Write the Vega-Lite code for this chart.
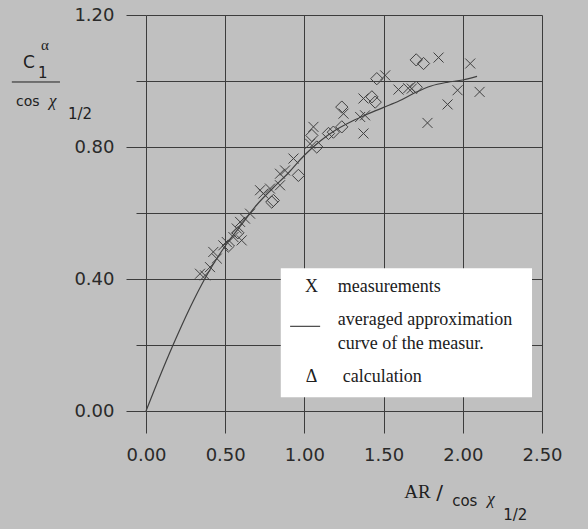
{
  "$schema": "https://vega.github.io/schema/vega-lite/v6.json",
  "autosize": "none",
  "width": 396,
  "height": 396,
  "padding": {"left": 146, "top": 15, "right": 46, "bottom": 118},
  "background": "#c0c0c0",
  "config": {"view": {"stroke": null}},
  "datasets": {
    "measurements": [
      {"x": 0.341, "y": 0.416}, {"x": 0.373, "y": 0.411}, {"x": 0.404, "y": 0.436}, {"x": 0.447, "y": 0.462},
      {"x": 0.425, "y": 0.482}, {"x": 0.488, "y": 0.502}, {"x": 0.51, "y": 0.512}, {"x": 0.552, "y": 0.527},
      {"x": 0.604, "y": 0.517}, {"x": 0.573, "y": 0.553}, {"x": 0.594, "y": 0.573}, {"x": 0.625, "y": 0.583},
      {"x": 0.657, "y": 0.598}, {"x": 0.72, "y": 0.669}, {"x": 0.741, "y": 0.659}, {"x": 0.783, "y": 0.674},
      {"x": 0.846, "y": 0.684}, {"x": 0.846, "y": 0.719}, {"x": 0.878, "y": 0.729}, {"x": 0.931, "y": 0.765},
      {"x": 1.036, "y": 0.81}, {"x": 1.057, "y": 0.861}, {"x": 1.247, "y": 0.901}, {"x": 1.352, "y": 0.891},
      {"x": 1.383, "y": 0.896}, {"x": 1.373, "y": 0.841}, {"x": 1.373, "y": 0.947}, {"x": 1.51, "y": 1.017},
      {"x": 1.594, "y": 0.974}, {"x": 1.655, "y": 0.978}, {"x": 1.678, "y": 0.977}, {"x": 1.777, "y": 0.873},
      {"x": 1.847, "y": 1.071}, {"x": 1.904, "y": 0.929}, {"x": 1.967, "y": 0.972}, {"x": 2.047, "y": 1.053},
      {"x": 2.106, "y": 0.967}
    ],
    "calculation": [
      {"x": 0.52, "y": 0.5}, {"x": 0.58, "y": 0.54}, {"x": 0.794, "y": 0.633}, {"x": 0.804, "y": 0.638},
      {"x": 0.962, "y": 0.714}, {"x": 1.047, "y": 0.835}, {"x": 1.078, "y": 0.8}, {"x": 1.152, "y": 0.841},
      {"x": 1.183, "y": 0.845}, {"x": 1.236, "y": 0.921}, {"x": 1.236, "y": 0.861}, {"x": 1.426, "y": 0.952},
      {"x": 1.447, "y": 0.936}, {"x": 1.457, "y": 1.007}, {"x": 1.706, "y": 0.981}, {"x": 1.706, "y": 1.064},
      {"x": 1.752, "y": 1.053}
    ],
    "curve": [
      {"x": 0, "y": 0}, {"x": 0.1, "y": 0.12}, {"x": 0.2, "y": 0.232}, {"x": 0.3, "y": 0.335},
      {"x": 0.4, "y": 0.425}, {"x": 0.5, "y": 0.5}, {"x": 0.6, "y": 0.563}, {"x": 0.7, "y": 0.625},
      {"x": 0.8, "y": 0.675}, {"x": 0.9, "y": 0.722}, {"x": 1.0, "y": 0.775}, {"x": 1.1, "y": 0.818},
      {"x": 1.2, "y": 0.852}, {"x": 1.3, "y": 0.878}, {"x": 1.4, "y": 0.9}, {"x": 1.5, "y": 0.92},
      {"x": 1.6, "y": 0.94}, {"x": 1.7, "y": 0.965}, {"x": 1.8, "y": 0.985}, {"x": 1.9, "y": 0.996},
      {"x": 2.0, "y": 1.003}, {"x": 2.09, "y": 1.014}
    ],
    "one": [{}]
  },
  "layer": [
    {
      "data": {"name": "measurements"},
      "mark": {"type": "point", "shape": "M-1,-1L1,1M1,-1L-1,1", "size": 100, "filled": false, "stroke": "#404040", "strokeWidth": 1, "opacity": 1},
      "encoding": {
        "x": {"field": "x", "type": "quantitative", "title": null,
          "scale": {"domain": [0, 2.5], "nice": false, "zero": false},
          "axis": {"values": [0, 0.25, 0.5, 0.75, 1, 1.25, 1.5, 1.75, 2, 2.25, 2.5], "format": ".2f",
            "labelExpr": "round(datum.value*100) % 50 === 0 ? datum.label : ''",
            "grid": true, "gridColor": "#3c3c3c", "gridWidth": 1, "gridOpacity": 1, "domain": false,
            "tickColor": "#3c3c3c", "tickWidth": 1,
            "tickSize": {"condition": {"test": "round(datum.value*100) % 50 === 0", "value": 22}, "value": 12},
            "labelFont": "DejaVu Sans", "labelFontSize": 18, "labelColor": "#2a2a2a", "labelPadding": 13,
            "labelOverlap": false, "labelFlush": false}},
        "y": {"field": "y", "type": "quantitative", "title": null,
          "scale": {"domain": [0, 1.2], "nice": false, "zero": false},
          "axis": {"values": [0, 0.2, 0.4, 0.6, 0.8, 1.0, 1.2], "format": ".2f",
            "labelExpr": "round(datum.value*10) % 4 === 0 ? datum.label : ''",
            "grid": true, "gridColor": "#3c3c3c", "gridWidth": 1, "gridOpacity": 1, "domain": false,
            "tickColor": "#3c3c3c", "tickWidth": 1,
            "tickSize": {"condition": {"test": "round(datum.value*10) % 4 === 0", "value": 20}, "value": 10},
            "labelFont": "DejaVu Sans", "labelFontSize": 18, "labelColor": "#2a2a2a", "labelPadding": 12,
            "labelOverlap": false, "labelFlush": false}}
      }
    },
    {
      "data": {"name": "calculation"},
      "mark": {"type": "point", "shape": "diamond", "size": 150, "filled": false, "stroke": "#404040", "strokeWidth": 1, "opacity": 1},
      "encoding": {
        "x": {"field": "x", "type": "quantitative"},
        "y": {"field": "y", "type": "quantitative"}
      }
    },
    {
      "data": {"name": "curve"},
      "mark": {"type": "line", "interpolate": "monotone", "stroke": "#404040", "strokeWidth": 1.2},
      "encoding": {
        "x": {"field": "x", "type": "quantitative"},
        "y": {"field": "y", "type": "quantitative"}
      }
    },
    {
      "data": {"name": "one"},
      "mark": {"type": "rect", "fill": "#ffffff", "stroke": null},
      "encoding": {
        "x": {"datum": 0.851, "type": "quantitative"}, "x2": {"datum": 2.437},
        "y": {"datum": 0.4324, "type": "quantitative"}, "y2": {"datum": 0.0415}
      }
    },
    {
      "data": {"name": "one"},
      "mark": {"type": "rule", "stroke": "#202020", "strokeWidth": 1},
      "encoding": {
        "x": {"datum": 0.9098, "type": "quantitative"}, "x2": {"datum": 1.0993},
        "y": {"datum": 0.2567, "type": "quantitative"}
      }
    },
    {
      "data": {"name": "one"},
      "mark": {"type": "text", "text": "X", "font": "Liberation Serif", "fontSize": 18, "align": "center", "baseline": "alphabetic", "color": "#202020"},
      "encoding": {"x": {"datum": 1.0456, "type": "quantitative"}, "y": {"datum": 0.3606, "type": "quantitative"}}
    },
    {
      "data": {"name": "one"},
      "mark": {"type": "text", "text": "measurements", "font": "Liberation Serif", "fontSize": 18, "align": "left", "baseline": "alphabetic", "color": "#202020"},
      "encoding": {"x": {"datum": 1.211, "type": "quantitative"}, "y": {"datum": 0.3606, "type": "quantitative"}}
    },
    {
      "data": {"name": "one"},
      "mark": {"type": "text", "text": "averaged approximation", "font": "Liberation Serif", "fontSize": 18, "align": "left", "baseline": "alphabetic", "color": "#202020"},
      "encoding": {"x": {"datum": 1.211, "type": "quantitative"}, "y": {"datum": 0.2597, "type": "quantitative"}}
    },
    {
      "data": {"name": "one"},
      "mark": {"type": "text", "text": "curve of the measur.", "font": "Liberation Serif", "fontSize": 18, "align": "left", "baseline": "alphabetic", "color": "#202020"},
      "encoding": {"x": {"datum": 1.211, "type": "quantitative"}, "y": {"datum": 0.187, "type": "quantitative"}}
    },
    {
      "data": {"name": "one"},
      "mark": {"type": "text", "text": "Δ", "font": "Liberation Serif", "fontSize": 18, "align": "center", "baseline": "alphabetic", "color": "#202020"},
      "encoding": {"x": {"datum": 1.0456, "type": "quantitative"}, "y": {"datum": 0.0879, "type": "quantitative"}}
    },
    {
      "data": {"name": "one"},
      "mark": {"type": "text", "text": "calculation", "font": "Liberation Serif", "fontSize": 18, "align": "left", "baseline": "alphabetic", "color": "#202020"},
      "encoding": {"x": {"datum": 1.2427, "type": "quantitative"}, "y": {"datum": 0.0879, "type": "quantitative"}}
    },
    {
      "data": {"name": "one"},
      "mark": {"type": "text", "text": "C", "font": "DejaVu Sans", "fontSize": 17, "align": "left", "baseline": "alphabetic", "color": "#202020"},
      "encoding": {"x": {"datum": -0.777, "type": "quantitative"}, "y": {"datum": 1.04, "type": "quantitative"}}
    },
    {
      "data": {"name": "one"},
      "mark": {"type": "text", "text": "α", "font": "Liberation Serif", "fontSize": 15, "align": "left", "baseline": "alphabetic", "color": "#202020"},
      "encoding": {"x": {"datum": -0.663, "type": "quantitative"}, "y": {"datum": 1.093, "type": "quantitative"}}
    },
    {
      "data": {"name": "one"},
      "mark": {"type": "text", "text": "1", "font": "DejaVu Sans", "fontSize": 15, "align": "left", "baseline": "alphabetic", "color": "#202020"},
      "encoding": {"x": {"datum": -0.682, "type": "quantitative"}, "y": {"datum": 1.008, "type": "quantitative"}}
    },
    {
      "data": {"name": "one"},
      "mark": {"type": "rule", "stroke": "#202020", "strokeWidth": 1},
      "encoding": {
        "x": {"datum": -0.847, "type": "quantitative"}, "x2": {"datum": -0.543},
        "y": {"datum": 0.997, "type": "quantitative"}
      }
    },
    {
      "data": {"name": "one"},
      "mark": {"type": "text", "text": "cos", "font": "DejaVu Sans", "fontSize": 14, "align": "left", "baseline": "alphabetic", "color": "#202020"},
      "encoding": {"x": {"datum": -0.821, "type": "quantitative"}, "y": {"datum": 0.923, "type": "quantitative"}}
    },
    {
      "data": {"name": "one"},
      "mark": {"type": "text", "text": "χ", "font": "Liberation Serif", "fontSize": 17, "fontStyle": "italic", "align": "left", "baseline": "alphabetic", "color": "#202020"},
      "encoding": {"x": {"datum": -0.613, "type": "quantitative"}, "y": {"datum": 0.923, "type": "quantitative"}}
    },
    {
      "data": {"name": "one"},
      "mark": {"type": "text", "text": "1/2", "font": "DejaVu Sans", "fontSize": 15, "align": "left", "baseline": "alphabetic", "color": "#202020"},
      "encoding": {"x": {"datum": -0.493, "type": "quantitative"}, "y": {"datum": 0.885, "type": "quantitative"}}
    },
    {
      "data": {"name": "one"},
      "mark": {"type": "text", "text": "AR", "font": "Liberation Serif", "fontSize": 19, "align": "left", "baseline": "alphabetic", "color": "#202020"},
      "encoding": {"x": {"datum": 1.63, "type": "quantitative"}, "y": {"datum": -0.2645, "type": "quantitative"}}
    },
    {
      "data": {"name": "one"},
      "mark": {"type": "text", "text": "/", "font": "DejaVu Sans", "fontSize": 20, "align": "left", "baseline": "alphabetic", "color": "#202020"},
      "encoding": {"x": {"datum": 1.832, "type": "quantitative"}, "y": {"datum": -0.267, "type": "quantitative"}}
    },
    {
      "data": {"name": "one"},
      "mark": {"type": "text", "text": "cos", "font": "DejaVu Sans", "fontSize": 15, "align": "left", "baseline": "alphabetic", "color": "#202020"},
      "encoding": {"x": {"datum": 1.933, "type": "quantitative"}, "y": {"datum": -0.2888, "type": "quantitative"}}
    },
    {
      "data": {"name": "one"},
      "mark": {"type": "text", "text": "χ", "font": "Liberation Serif", "fontSize": 17, "fontStyle": "italic", "align": "left", "baseline": "alphabetic", "color": "#202020"},
      "encoding": {"x": {"datum": 2.154, "type": "quantitative"}, "y": {"datum": -0.2827, "type": "quantitative"}}
    },
    {
      "data": {"name": "one"},
      "mark": {"type": "text", "text": "1/2", "font": "DejaVu Sans", "fontSize": 15, "align": "left", "baseline": "alphabetic", "color": "#202020"},
      "encoding": {"x": {"datum": 2.255, "type": "quantitative"}, "y": {"datum": -0.3309, "type": "quantitative"}}
    }
  ]
}
